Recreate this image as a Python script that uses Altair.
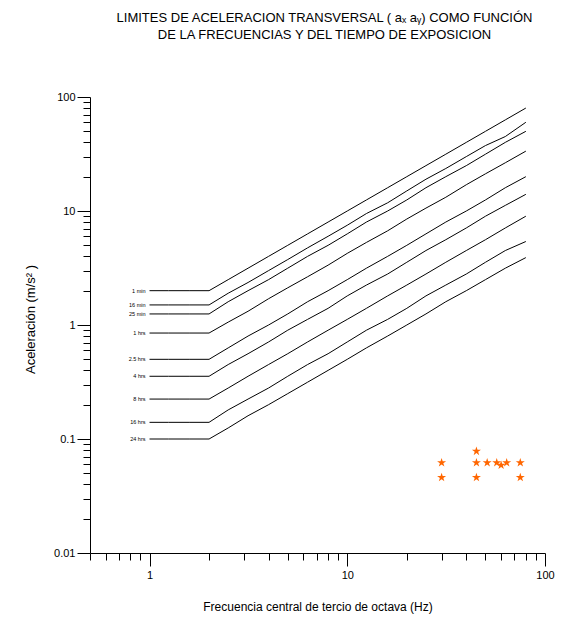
import altair as alt
import pandas as pd

# 1/3-octave centre frequencies (Hz)
freq = [1, 1.25, 1.6, 2, 2.5, 3.15, 4, 5, 6.3, 8, 10, 12.5, 16, 20, 25, 31.5, 40, 50, 63, 80]

# exposure-time limit curves (m/s^2)
series_labels = ["1 min", "16 min", "25 min", "1 hrs", "2.5 hrs", "4 hrs", "8 hrs", "16 hrs", "24 hrs"]
a_1min = [2.0, 2.0, 2.0, 2.0, 2.5, 3.15, 4.0, 5.0, 6.3, 8.0, 10, 12.5, 16, 20, 25, 31.5, 40, 50, 63, 80]
a_16min = [1.5, 1.5, 1.5, 1.5, 1.9, 2.36, 3.0, 3.75, 4.75, 6.0, 7.5, 9.5, 11.8, 15, 19, 23.6, 30, 37.5, 45, 60]
a_25min = [1.25, 1.25, 1.25, 1.25, 1.6, 2.0, 2.5, 3.15, 4.0, 5.0, 6.3, 8.0, 10, 12.5, 16, 20, 25, 31.5, 40, 50]
a_1h = [0.85, 0.85, 0.85, 0.85, 1.06, 1.32, 1.7, 2.12, 2.65, 3.35, 4.25, 5.3, 6.7, 8.5, 10.6, 13.2, 17, 21.2, 26.5, 33.5]
a_2_5h = [0.5, 0.5, 0.5, 0.5, 0.63, 0.8, 1.0, 1.25, 1.6, 2.0, 2.5, 3.15, 4.0, 5.0, 6.3, 8.0, 10, 12.5, 16, 20]
a_4h = [0.355, 0.355, 0.355, 0.355, 0.45, 0.56, 0.71, 0.9, 1.12, 1.4, 1.8, 2.24, 2.8, 3.55, 4.5, 5.6, 7.1, 9.0, 11.2, 14]
a_8h = [0.224, 0.224, 0.224, 0.224, 0.28, 0.355, 0.45, 0.56, 0.71, 0.9, 1.12, 1.4, 1.8, 2.24, 2.8, 3.55, 4.5, 5.6, 7.1, 9.0]
a_16h = [0.14, 0.14, 0.14, 0.14, 0.18, 0.224, 0.28, 0.355, 0.45, 0.56, 0.71, 0.9, 1.12, 1.4, 1.8, 2.24, 2.8, 3.55, 4.5, 5.4]
a_24h = [0.1, 0.1, 0.1, 0.1, 0.125, 0.16, 0.2, 0.25, 0.315, 0.4, 0.5, 0.63, 0.8, 1.0, 1.25, 1.6, 2.0, 2.5, 3.15, 3.9]
series_values = [a_1min, a_16min, a_25min, a_1h, a_2_5h, a_4h, a_8h, a_16h, a_24h]

# measured points (stars)
star_freq = [30, 30, 45, 45, 45, 51, 57, 60, 64, 75, 75]
star_acc = [0.062, 0.046, 0.078, 0.062, 0.046, 0.062, 0.062, 0.059, 0.062, 0.062, 0.046]

x_ticks = [0.5, 0.6, 0.7, 0.8, 0.9, 1, 2, 3, 4, 5, 6, 7, 8, 9, 10, 20, 30, 40, 50, 60, 70, 80, 90, 100]
y_ticks = [0.01, 0.02, 0.03, 0.04, 0.05, 0.06, 0.07, 0.08, 0.09,
           0.1, 0.2, 0.3, 0.4, 0.5, 0.6, 0.7, 0.8, 0.9,
           1, 2, 3, 4, 5, 6, 7, 8, 9,
           10, 20, 30, 40, 50, 60, 70, 80, 90, 100]

rows = []
for lab, vals in zip(series_labels, series_values):
    for f, a in zip(freq, vals):
        rows.append({"serie": lab, "f": f, "a": a})
lines_df = pd.DataFrame(rows)
labels_df = pd.DataFrame({"serie": series_labels, "f": [freq[0]] * len(series_labels),
                          "a": [v[0] for v in series_values]})
stars_df = pd.DataFrame({"f": star_freq, "a": star_acc})

FONT = "Liberation Sans"
major = "abs(log(datum.value)/LN10 - round(log(datum.value)/LN10)) < 0.001"

x_scale = alt.Scale(type="log", domain=[0.5, 100], nice=False)
y_scale = alt.Scale(type="log", domain=[0.01, 100], nice=False)

x_axis = alt.Axis(values=x_ticks, tickSize={"condition": {"test": major, "value": 13}, "value": 7},
                  labelExpr=f"({major}) ? format(datum.value, '~g') : ''",
                  title="Frecuencia central de tercio de octava (Hz)", titlePadding=21,
                  labelPadding=3, grid=False, labelFlush=False, labelOverlap=False)
y_axis = alt.Axis(values=y_ticks, tickSize={"condition": {"test": major, "value": 13}, "value": 7},
                  labelExpr=f"({major}) ? format(datum.value, '~g') : ''",
                  title="Aceleración (m/s² )", titlePadding=16, titleFontSize=13, titleY=222,
                  labelPadding=2, grid=False, labelFlush=False, labelOverlap=False)

lines = alt.Chart(lines_df).mark_line(color="black", strokeWidth=1, clip=True).encode(
    x=alt.X("f:Q", scale=x_scale, axis=x_axis),
    y=alt.Y("a:Q", scale=y_scale, axis=y_axis),
    detail="serie:N",
    order="f:Q",
)

texts = alt.Chart(labels_df).mark_text(align="right", baseline="middle", dx=-4, fontSize=5.5,
                                        font=FONT, color="black").encode(
    x=alt.X("f:Q", scale=x_scale),
    y=alt.Y("a:Q", scale=y_scale),
    text="serie:N",
)

star_path = ("M0,-1L0.2245,-0.309L0.9511,-0.309L0.3633,0.118L0.5878,0.809L0,0.382"
             "L-0.5878,0.809L-0.3633,0.118L-0.9511,-0.309L-0.2245,-0.309Z")
stars = alt.Chart(stars_df).mark_point(shape=star_path, filled=True, color="#FF6600",
                                       size=90, opacity=1).encode(
    x=alt.X("f:Q", scale=x_scale),
    y=alt.Y("a:Q", scale=y_scale),
)

chart = (lines + texts + stars).properties(
    width=455, height=456,
    autosize=alt.AutoSizeParams(type="none"),
    padding={"left": 82, "top": 89, "right": 17, "bottom": 61},
    title=alt.TitleParams(
        text=["LIMITES DE ACELERACION TRANSVERSAL ( aₓ aᵧ) COMO FUNCIÓN",
              "DE LA FRECUENCIAS Y DEL TIEMPO DE EXPOSICION"],
        font=FONT, fontSize=13, fontWeight="normal", color="black",
        anchor="middle", offset=49, lineHeight=17, dx=7,
    ),
).configure_view(stroke=None).configure_axis(
    domainColor="black", tickColor="black", labelColor="black", titleColor="black",
    labelFont=FONT, titleFont=FONT, labelFontSize=11, titleFontSize=12,
    titleFontWeight="normal", domainWidth=1, tickWidth=1,
)

chart.save("out.html", embed_options={"renderer": "svg", "actions": False})
